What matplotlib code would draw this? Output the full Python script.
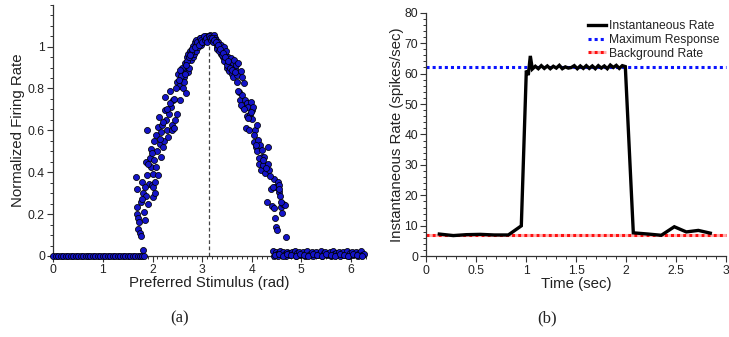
import matplotlib
matplotlib.use('Agg')
import matplotlib.pyplot as plt
from matplotlib.ticker import MultipleLocator

plt.rcParams['font.family'] = ['Liberation Sans', 'DejaVu Sans']

# ---------------- Panel (a) data: tuning curve scatter ----------------
zero_x = [0.00, 0.05, 0.10, 0.15, 0.20, 0.25, 0.30, 0.35, 0.40, 0.45, 0.50, 0.55,
          0.60, 0.65, 0.70, 0.75, 0.80, 0.85, 0.90, 0.95, 1.00, 1.05, 1.10, 1.15,
          1.20, 1.25, 1.30, 1.35, 1.40, 1.45, 1.50, 1.55, 1.60, 1.65, 1.70, 1.75,
          1.79, 1.83]
zero_y = [0.0] * len(zero_x)

active_x = [1.66, 1.68, 1.69, 1.68, 1.71, 1.70, 1.75, 1.76, 1.76, 1.78, 1.81, 1.83,
            1.85, 1.87, 1.89, 1.86, 1.88, 1.90, 1.92, 1.80, 1.94, 1.96, 1.97, 1.98,
            2.00, 2.02, 2.03, 2.04, 2.02, 2.05, 2.06, 2.08, 2.10, 2.12, 2.12, 2.14,
            2.15, 2.17, 2.18, 2.20, 2.22, 2.24, 2.25, 2.26, 2.28, 2.30, 2.32, 2.33,
            2.35, 2.37, 2.39, 2.40, 2.42, 2.43, 2.45, 2.49, 2.50, 2.52, 2.54, 2.55,
            2.57, 2.59, 2.61, 2.62, 2.64, 2.65, 2.67, 2.69, 2.71, 2.72, 2.74, 2.76,
            2.78, 2.79, 2.81, 2.82, 2.84, 2.86, 2.88, 2.89, 2.91, 2.92, 2.94, 2.96,
            2.98, 2.99, 3.01, 3.02, 3.04, 3.06, 3.08, 3.09, 3.11, 3.12, 3.16, 3.18,
            3.19, 3.21, 3.23, 3.25, 3.26, 3.28, 3.29, 3.31, 3.33, 3.35, 3.36, 3.38,
            3.39, 3.41, 3.43, 3.45, 3.46, 3.48, 3.49, 3.51, 3.53, 3.55, 3.56, 3.58,
            3.60, 3.62, 3.63, 3.65, 3.66, 3.68, 3.70, 3.71, 3.73, 3.75, 3.76, 3.78,
            3.80, 3.81, 3.83, 3.85, 3.86, 3.88, 3.90, 3.91, 3.93, 3.94, 3.97, 3.98,
            4.00, 4.01, 4.03, 4.04, 4.07, 4.08, 4.10, 4.11, 4.13, 4.15, 4.17, 4.19,
            4.20, 4.21, 4.23, 4.25, 4.27, 4.30, 4.32, 4.33, 4.35, 4.39, 4.40, 4.44,
            4.46, 4.47, 4.49, 4.50, 4.52, 4.54, 4.56, 4.57, 4.59, 4.62, 4.64, 4.67,
            4.69, 4.44,
            2.58, 2.60, 2.63, 2.66, 2.70, 2.73, 2.77, 2.80, 2.85, 2.87, 2.90, 2.93,
            2.95, 2.97, 3.00, 3.03, 3.05, 3.07, 3.10, 3.13, 3.15, 3.17, 3.20, 3.22,
            3.24, 3.27, 3.30, 3.32, 3.34, 3.37, 3.40, 3.42, 3.44, 3.47, 3.50, 3.52,
            1.73, 1.79, 1.84, 1.91, 1.99, 2.07, 2.16, 2.21, 2.29, 2.36, 2.44, 2.47,
            2.53, 2.56, 2.68, 2.75, 3.57, 3.61, 3.67, 3.72, 3.79, 3.84, 3.92, 3.99,
            4.05, 4.09, 4.14, 4.22, 4.28, 4.37, 4.42, 4.55, 4.60]
active_y = [0.375, 0.32, 0.235, 0.20, 0.18, 0.13, 0.11, 0.095, 0.26, 0.355, 0.30, 0.21,
            0.17, 0.285, 0.60, 0.45, 0.385, 0.25, 0.345, 0.03, 0.47, 0.51, 0.425, 0.34,
            0.33, 0.28, 0.46, 0.55, 0.39, 0.30, 0.355, 0.425, 0.50, 0.385, 0.615, 0.665,
            0.535, 0.475, 0.59, 0.625, 0.52, 0.55, 0.695, 0.76, 0.65, 0.60, 0.57, 0.68,
            0.79, 0.71, 0.625, 0.60, 0.745, 0.61, 0.65, 0.83, 0.68, 0.87, 0.81, 0.745,
            0.885, 0.84, 0.895, 0.80, 0.855, 0.92, 0.78, 0.95, 0.88, 0.965, 0.90, 0.98,
            0.935, 0.99, 0.95, 1.005, 0.965, 1.02, 0.98, 1.01, 1.03, 1.00, 1.02, 1.04,
            1.01, 1.03, 1.045, 1.02, 1.04, 1.03, 1.05, 1.035, 1.045, 1.03, 1.055, 1.04,
            1.045, 1.03, 1.055, 1.02, 1.04, 1.015, 1.03, 1.00, 1.02, 0.99, 1.005, 0.965,
            1.01, 0.98, 0.95, 1.00, 0.965, 0.98, 0.925, 0.90, 0.95, 0.885, 0.925, 0.945,
            0.87, 0.92, 0.855, 0.935, 0.895, 0.91, 0.83, 0.865, 0.92, 0.785, 0.745, 0.885,
            0.77, 0.855, 0.71, 0.825, 0.745, 0.61, 0.67, 0.73, 0.71, 0.60, 0.68, 0.735,
            0.695, 0.655, 0.71, 0.545, 0.60, 0.52, 0.625, 0.50, 0.555, 0.44, 0.53, 0.41,
            0.475, 0.505, 0.435, 0.475, 0.395, 0.26, 0.44, 0.52, 0.41, 0.32, 0.24, 0.37,
            0.18, 0.33, 0.14, 0.125, 0.355, 0.305, 0.34, 0.285, 0.235, 0.205, 0.25, 0.245,
            0.09, 0.23,
            0.86, 0.90, 0.83, 0.87, 0.93, 0.95, 0.97, 0.99, 1.00, 1.03, 1.02, 1.01,
            1.04, 1.03, 1.02, 1.05, 1.03, 1.04, 1.02, 1.05, 1.04, 1.03, 1.04, 1.02,
            1.03, 1.02, 0.99, 1.01, 0.98, 0.99, 0.96, 0.97, 0.93, 0.95, 0.91, 0.93,
            0.16, 0.27, 0.33, 0.44, 0.49, 0.58, 0.56, 0.64, 0.70, 0.73, 0.75, 0.80,
            0.84, 0.89, 0.91, 0.96, 0.90, 0.89, 0.88, 0.79, 0.72, 0.70, 0.66, 0.69,
            0.58, 0.53, 0.47, 0.46, 0.42, 0.38, 0.33, 0.32, 0.26]

tail_x = [4.42, 4.45, 4.48, 4.50, 4.53, 4.56, 4.58, 4.61, 4.64, 4.67, 4.70, 4.72,
          4.75, 4.78, 4.81, 4.84, 4.87, 4.90, 4.92, 4.95, 4.98, 5.01, 5.04, 5.07,
          5.10, 5.12, 5.15, 5.18, 5.21, 5.24, 5.27, 5.30, 5.33, 5.36, 5.39, 5.42,
          5.45, 5.48, 5.51, 5.54, 5.57, 5.60, 5.63, 5.66, 5.69, 5.72, 5.75, 5.78,
          5.81, 5.84, 5.87, 5.90, 5.93, 5.96, 5.99, 6.02, 6.05, 6.08, 6.11, 6.14,
          6.17, 6.20, 6.23, 6.26,
          4.46, 4.55, 4.63, 4.71, 4.80, 4.89, 4.97, 5.06, 5.14, 5.23, 5.32, 5.41,
          5.50, 5.59, 5.68, 5.77, 5.86, 5.95, 6.04, 6.13, 6.22]
tail_y = [0.025, 0.0, 0.02, 0.01, 0.0, 0.015, 0.025, 0.005, 0.02, 0.01, 0.0, 0.02,
          0.015, 0.005, 0.02, 0.01, 0.025, 0.0, 0.015, 0.02, 0.005, 0.01, 0.02, 0.0,
          0.015, 0.025, 0.005, 0.01, 0.02, 0.0, 0.015, 0.02, 0.005, 0.01, 0.025, 0.0,
          0.015, 0.02, 0.005, 0.01, 0.02, 0.0, 0.025, 0.01, 0.015, 0.005, 0.02, 0.0,
          0.015, 0.02, 0.005, 0.01, 0.025, 0.0, 0.015, 0.02, 0.005, 0.01, 0.02, 0.0,
          0.015, 0.025, 0.005, 0.01,
          0.005, 0.01, 0.0, 0.01, 0.005, 0.0, 0.01, 0.005, 0.0, 0.01, 0.005, 0.0,
          0.01, 0.005, 0.0, 0.01, 0.005, 0.0, 0.01, 0.005, 0.0]

preferred_stimulus = 3.1416
peak_height = 1.055

# ---------------- Panel (b) data: instantaneous rate ----------------
time_s = [0.13, 0.27, 0.40, 0.54, 0.68, 0.82, 0.95, 1.00, 1.02, 1.04, 1.06,
          1.09, 1.12, 1.15, 1.18, 1.21, 1.24, 1.27, 1.30, 1.33, 1.36, 1.39, 1.42,
          1.45, 1.48, 1.51, 1.54, 1.57, 1.60, 1.63, 1.66, 1.69, 1.72, 1.75, 1.78,
          1.81, 1.84, 1.87, 1.90, 1.93, 1.96, 1.99, 2.07, 2.22, 2.35, 2.48, 2.60,
          2.72, 2.84]
rate = [7.3, 6.8, 7.1, 7.2, 7.0, 7.0, 10.0, 61.0, 59.5, 65.8, 61.5,
        62.4, 61.6, 62.6, 61.7, 62.5, 61.6, 62.4, 61.8, 62.7, 61.6, 62.2, 61.8,
        62.0, 62.6, 61.6, 62.5, 61.7, 62.6, 61.7, 62.5, 61.6, 62.6, 61.8, 62.5,
        61.6, 62.8, 62.0, 62.7, 61.7, 62.6, 62.3, 7.7, 7.3, 6.9, 9.7, 8.0,
        8.5, 7.6]
max_response = 62.0
background_rate = 7.0

# ---------------- Figure ----------------
fig = plt.figure(figsize=(7.29, 3.37), dpi=100)
ax1 = fig.add_axes([0.0731, 0.2404, 0.4287, 0.7456])
ax2 = fig.add_axes([0.5848, 0.2395, 0.4115, 0.7229])

text_col = '#222222'
for ax in (ax1, ax2):
    ax.spines['top'].set_visible(False)
    ax.spines['right'].set_visible(False)
    for s in ('left', 'bottom'):
        ax.spines[s].set_color('#333333')
        ax.spines[s].set_linewidth(0.9)
    ax.tick_params(which='major', direction='out', length=4, width=0.8,
                   labelsize=8.7, colors='#333333', labelcolor=text_col, pad=2)
    ax.tick_params(which='minor', direction='out', length=2, width=0.7,
                   colors='#333333')

marker_kw = dict(s=19, c='#1414c8', edgecolors='black', linewidths=0.55, zorder=3,
                 clip_on=False)
ax1.vlines(preferred_stimulus, 0, peak_height, colors='#444444',
           linestyles=(0, (3, 2)), linewidth=0.9, zorder=2)
ax1.scatter(zero_x, zero_y, **marker_kw)
ax1.scatter(tail_x, tail_y, **marker_kw)
ax1.scatter(active_x, active_y, **marker_kw)
ax1.set_xlim(0, 6.3)
ax1.set_ylim(0, 1.2)
ax1.xaxis.set_major_locator(MultipleLocator(1))
ax1.xaxis.set_minor_locator(MultipleLocator(0.1))
ax1.yaxis.set_major_locator(MultipleLocator(0.2))
ax1.yaxis.set_minor_locator(MultipleLocator(0.05))
ax1.set_yticks([0, 0.2, 0.4, 0.6, 0.8, 1.0])
ax1.set_yticklabels(['0', '0.2', '0.4', '0.6', '0.8', '1'])
ax1.set_xlabel('Preferred Stimulus (rad)', fontsize=10.8, color=text_col, labelpad=0)
ax1.set_ylabel('Normalized Firing Rate', fontsize=10.8, color=text_col, labelpad=2)

ax2.plot([0, 3], [max_response, max_response], color='#0a14ff',
         linestyle=(0, (1, 1)), linewidth=2.2, label='Maximum Response', zorder=2,
         clip_on=False)
ax2.plot([0, 3], [background_rate, background_rate], color='#ff1010',
         linestyle=(0, (1, 1)), gapcolor='#ffb0b0', linewidth=2.2,
         label='Background Rate', zorder=2, clip_on=False)
ax2.plot(time_s, rate, color='black', linewidth=2.4, label='Instantaneous Rate',
         zorder=3, solid_joinstyle='miter')
ax2.set_xlim(0, 3)
ax2.set_ylim(0, 80)
ax2.xaxis.set_major_locator(MultipleLocator(0.5))
ax2.xaxis.set_minor_locator(MultipleLocator(0.1))
ax2.yaxis.set_major_locator(MultipleLocator(10))
ax2.yaxis.set_minor_locator(MultipleLocator(2))
ax2.set_xticks([0, 0.5, 1, 1.5, 2, 2.5, 3])
ax2.set_xticklabels(['0', '0.5', '1', '1.5', '2', '2.5', '3'])
ax2.set_xlabel('Time (sec)', fontsize=10.8, color=text_col, labelpad=0)
ax2.set_ylabel('Instantaneous Rate (spikes/sec)', fontsize=10.8, color=text_col,
               labelpad=0)
h, l = ax2.get_legend_handles_labels()
order = [2, 0, 1]
ax2.legend([h[i] for i in order], [l[i] for i in order], loc='upper right',
           bbox_to_anchor=(1.0, 1.0), frameon=False, fontsize=8.7,
           handlelength=1.5, handletextpad=0.2, labelspacing=0.15,
           borderaxespad=0.2, labelcolor=text_col)

fig.text(180 / 729, 1 - 318 / 337, '(a)', family='Liberation Serif', fontsize=12,
         ha='center', va='center', color=text_col)
fig.text(547 / 729, 1 - 318 / 337, '(b)', family='Liberation Serif', fontsize=12,
         ha='center', va='center', color=text_col)

fig.savefig('out.png', dpi=100)
